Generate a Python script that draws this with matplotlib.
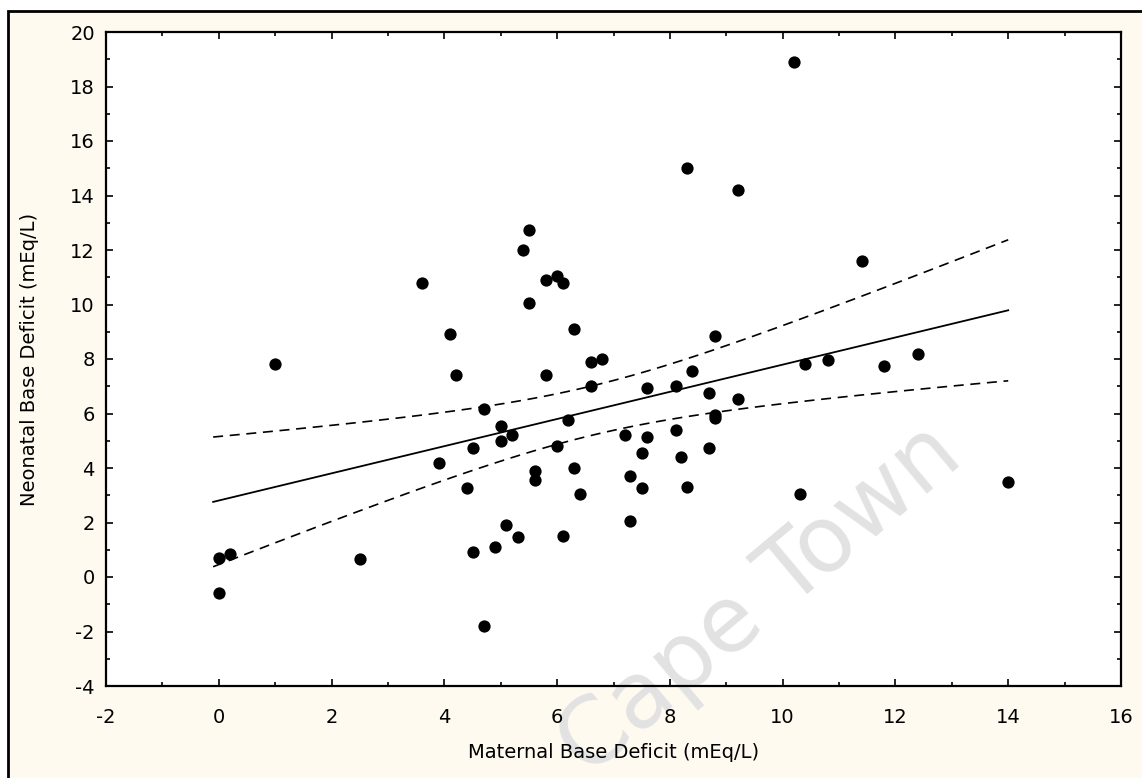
import numpy as np
import matplotlib.pyplot as plt
from matplotlib.patches import Rectangle
from matplotlib.ticker import MultipleLocator

plt.rcParams['font.family'] = ['DejaVu Sans']
plt.rcParams['axes.unicode_minus'] = False

# maternal vs neonatal base deficit (mEq/L)
maternal = [0.0, 0.2, 0.0, 1.0, 2.5, 4.7, 10.2, 11.4, 8.3, 9.2,
            5.5, 5.4, 3.6, 5.8, 6.0, 6.1, 5.5, 4.1, 6.3, 6.6,
            6.8, 8.8, 4.2, 5.8, 8.4, 6.6, 7.6, 8.1, 8.7, 9.2,
            4.7, 5.0, 6.2, 8.8, 8.8, 5.2, 5.0, 4.5, 7.2, 7.6,
            8.1, 6.0, 8.7, 7.5, 8.2, 3.9, 5.6, 5.6, 6.3, 7.3,
            4.4, 6.4, 7.5, 8.3, 7.3, 5.1, 5.3, 6.1, 4.9, 4.5,
            10.4, 10.8, 11.8, 12.4, 10.3, 14.0]
neonatal = [0.7, 0.85, -0.6, 7.8, 0.65, -1.8, 18.9, 11.6, 15.0, 14.2,
            12.75, 12.0, 10.8, 10.9, 11.05, 10.8, 10.05, 8.9, 9.1, 7.9,
            8.0, 8.85, 7.4, 7.4, 7.55, 7.0, 6.95, 7.0, 6.75, 6.55,
            6.15, 5.55, 5.75, 5.95, 5.85, 5.2, 5.0, 4.75, 5.2, 5.15,
            5.4, 4.8, 4.75, 4.55, 4.4, 4.2, 3.9, 3.55, 4.0, 3.7,
            3.25, 3.05, 3.25, 3.3, 2.05, 1.9, 1.45, 1.5, 1.1, 0.9,
            7.8, 7.95, 7.75, 8.2, 3.05, 3.5]

x_ticks = list(range(-2, 17, 2))
y_ticks = list(range(-4, 21, 2))

cream = '#fffaf0'

x = np.array(maternal)
y = np.array(neonatal)

# linear fit with 95% confidence band
n = len(x)
slope, intercept = np.polyfit(x, y, 1)
resid = y - (intercept + slope * x)
s = np.sqrt(np.sum(resid ** 2) / (n - 2))
sxx = np.sum((x - x.mean()) ** 2)
t = 1.997
xs = np.linspace(-0.1, 14.0, 100)
fit = intercept + slope * xs
half = t * s * np.sqrt(1.0 / n + (xs - x.mean()) ** 2 / sxx)

fig = plt.figure(figsize=(11.42, 7.78), dpi=100, facecolor='white')
# outer framed panel
fig.patches.append(Rectangle((8 / 1142, -0.1), 1.2, (778 - 11) / 778 + 0.1,
                             transform=fig.transFigure, facecolor=cream,
                             edgecolor='black', linewidth=2, zorder=-1))

ax = fig.add_axes([106 / 1142, 92 / 778, 1015 / 1142, 654 / 778])
ax.set_facecolor('white')

# watermark (pixel position, origin bottom-left)
ax.text(760, 778 - 600, 'Cape Town', transform=None, fontsize=66,
        color='#e2e2e2', rotation=40, ha='center', va='center',
        zorder=0, clip_on=False)

ax.scatter(x, y, s=78, color='black', zorder=3, linewidths=0)
ax.plot(xs, fit, color='black', lw=1.3, zorder=2)
ax.plot(xs, fit + half, color='black', lw=1.2, linestyle=(0, (6, 4)), zorder=2)
ax.plot(xs, fit - half, color='black', lw=1.2, linestyle=(0, (6, 4)), zorder=2)

ax.set_xlim(-2, 16)
ax.set_ylim(-4, 20)
ax.set_xticks(x_ticks)
ax.set_yticks(y_ticks)
ax.xaxis.set_minor_locator(MultipleLocator(1))
ax.yaxis.set_minor_locator(MultipleLocator(1))
ax.tick_params(which='both', direction='in', top=True, right=True, width=1.2)
ax.tick_params(which='major', length=5, labelsize=14)
ax.tick_params(axis='x', which='major', pad=16)
ax.tick_params(axis='y', which='major', pad=8)
ax.tick_params(which='minor', length=3)
for sp in ax.spines.values():
    sp.set_linewidth(1.6)

ax.set_xlabel('Maternal Base Deficit (mEq/L)', fontsize=14)
ax.set_ylabel('Neonatal Base Deficit (mEq/L)', fontsize=14)
ax.xaxis.set_label_coords(0.5, -0.087)
ax.yaxis.set_label_coords(-0.066, 0.5)

fig.savefig('out.png', dpi=100, facecolor=fig.get_facecolor())
plt.close(fig)
